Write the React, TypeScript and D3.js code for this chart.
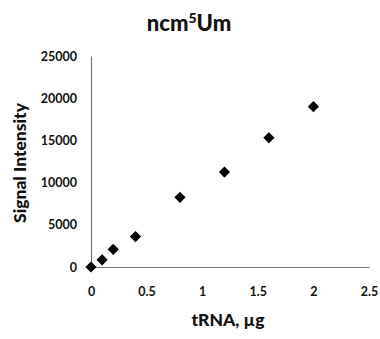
import React, { useRef, useEffect } from 'react';
import * as d3 from 'd3';

const amounts = [0, 0.1, 0.2, 0.4, 0.8, 1.2, 1.6, 2.0];
const signals = [0, 850, 2100, 3600, 8250, 11250, 15300, 19000];
const xTicks = [0, 0.5, 1, 1.5, 2, 2.5];
const yTicks = [0, 5000, 10000, 15000, 20000, 25000];

const font = 'Lato, "Open Sans", sans-serif';

const App: React.FC = () => {
  const svgRef = useRef<SVGSVGElement | null>(null);

  useEffect(() => {
    if (!svgRef.current) return;
    const svg = d3.select(svgRef.current);
    svg.selectAll('*').remove();

    const width = 380;
    const height = 339;
    const margin = { top: 56, right: 11, bottom: 72, left: 91 };

    const x = d3.scaleLinear().domain([0, 2.5]).range([margin.left, width - margin.right]);
    const y = d3.scaleLinear().domain([0, 25000]).range([height - margin.bottom, margin.top]);

    svg.append('rect').attr('width', width).attr('height', height).attr('fill', '#fff');

    // Title
    const title = svg.append('text')
      .attr('x', 189)
      .attr('y', 31)
      .attr('text-anchor', 'middle')
      .style('font-family', font)
      .style('font-weight', 900)
      .style('font-size', '22px')
      .style('fill', '#111');
    title.append('tspan').text('ncm');
    title.append('tspan').attr('dy', -8).style('font-size', '14px').text('5');
    title.append('tspan').attr('dy', 8).text('Um');

    // Axes
    const xAxis = svg.append('g')
      .attr('transform', `translate(0,${y(0)})`)
      .call(d3.axisBottom(x).tickValues(xTicks).tickSize(0).tickPadding(20).tickFormat(d => String(d)));
    xAxis.select('.domain').attr('stroke', '#777').attr('stroke-width', 1.2);
    xAxis.selectAll('text')
      .style('font-family', font)
      .style('font-weight', 'bold')
      .style('font-size', '12.5px')
      .style('fill', '#111');

    const yAxis = svg.append('g')
      .attr('transform', `translate(${x(0)},0)`)
      .call(d3.axisLeft(y).tickValues(yTicks).tickSize(0).tickPadding(14).tickFormat(d => String(d)));
    yAxis.select('.domain').attr('stroke', '#777').attr('stroke-width', 1.2);
    yAxis.selectAll('text')
      .style('font-family', font)
      .style('font-weight', 'bold')
      .style('font-size', '12.5px')
      .style('fill', '#111');

    // Axis titles
    svg.append('text')
      .attr('x', 228)
      .attr('y', 326)
      .attr('text-anchor', 'middle')
      .style('font-family', font)
      .style('font-weight', 900)
      .style('font-size', '17.5px')
      .style('fill', '#111')
      .text('tRNA, µg');

    svg.append('text')
      .attr('transform', 'translate(26,163) rotate(-90)')
      .attr('text-anchor', 'middle')
      .style('font-family', font)
      .style('font-weight', 900)
      .style('font-size', '17.5px')
      .style('fill', '#111')
      .text('Signal Intensity');

    // Points
    const diamond = d3.symbol().type(d3.symbolDiamond2).size(80);
    svg.append('g')
      .selectAll('path')
      .data(amounts.map((a, i) => ({ a, s: signals[i] })))
      .join('path')
      .attr('transform', d => `translate(${x(d.a)},${y(d.s)})`)
      .attr('d', diamond)
      .attr('fill', '#000');
  }, []);

  return <svg ref={svgRef} width={380} height={339} style={{ position: 'absolute', left: 0, top: 0 }} />;
};

export default App;
